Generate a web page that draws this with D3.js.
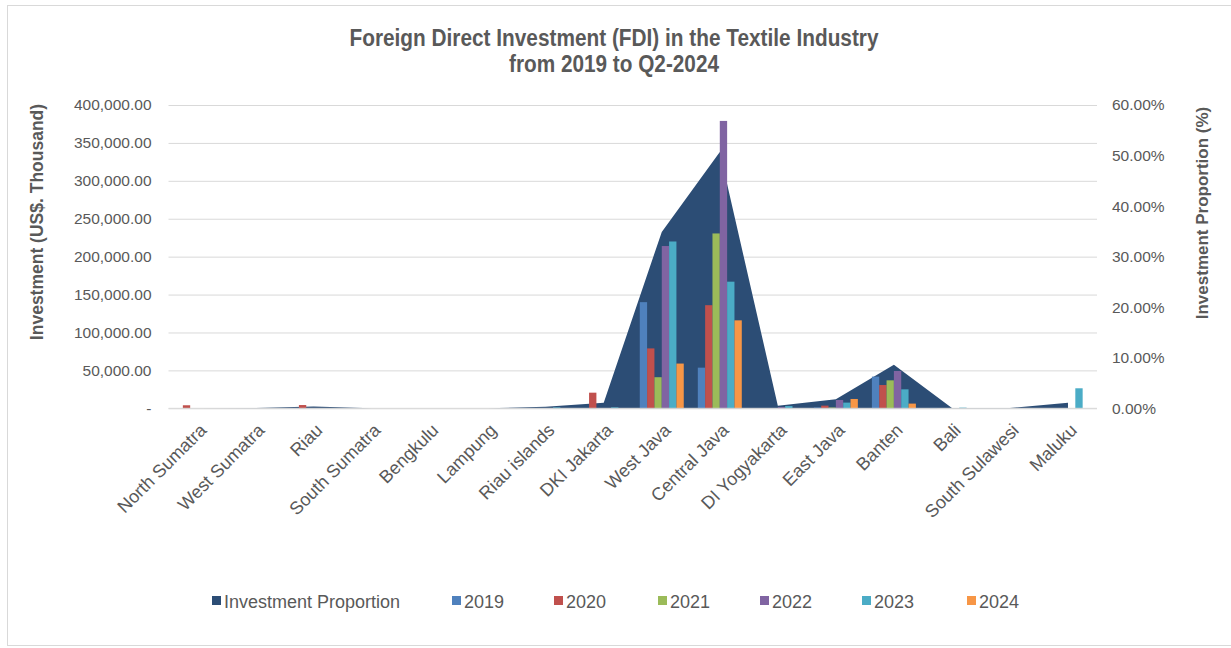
<!DOCTYPE html>
<html>
<head>
<meta charset="utf-8">
<script src="https://cdn.jsdelivr.net/npm/d3@7"></script>
<style>
  html, body { margin: 0; padding: 0; background: #fff; }
  svg { display: block; }
  text { font-family: "Liberation Sans", Arial, sans-serif; fill: #595959; }
</style>
</head>
<body>
<svg id="chart" width="1231" height="648"></svg>
<script>
const categories = ["North Sumatra","West Sumatra","Riau","South Sumatra","Bengkulu","Lampung","Riau islands","DKI Jakarta","West Java","Central Java","DI Yogyakarta","East Java","Banten","Bali","South Sulawesi","Maluku"];
const seriesNames = ["2019","2020","2021","2022","2023","2024"];
const v2019 = [0,0,0,0,0,0,0,0,140000,53600,0,1000,41800,500,0,0];
const v2020 = [4000,0,4300,0,0,0,0,20600,79000,136000,0,3500,30700,0,0,0];
const v2021 = [0,0,0,0,0,0,0,0,41000,230600,0,1000,36900,0,0,0];
const v2022 = [0,0,0,0,0,0,0,0,214000,379000,1500,11000,49200,0,0,0];
const v2023 = [0,0,0,0,0,0,1200,1200,220000,167000,3000,7500,25000,900,0,26400];
const v2024 = [0,0,0,0,0,0,0,0,59000,116000,0,12300,6200,0,0,0];
const proportion = [0,0.05,0.35,0.02,0,0,0.3,1.1,34.9,50.7,0.5,1.8,8.6,0.05,0.05,1.1];
const leftTicks = [0,50000,100000,150000,200000,250000,300000,350000,400000];
const rightTicks = [0,10,20,30,40,50,60];
const title = ["Foreign Direct Investment (FDI) in the Textile Industry","from 2019 to Q2-2024"];

const seriesValues = [v2019,v2020,v2021,v2022,v2023,v2024];
const colors = ["#4f81bd","#c0504d","#9bbb59","#8064a2","#4bacc6","#f79646"];
const areaColor = "#2c4d75";

const svg = d3.select("#chart");
const L = 168.5, R = 1097, T = 105, B = 408.3;

svg.append("rect").attr("x",7.5).attr("y",5.5).attr("width",1229).attr("height",640)
  .attr("fill","none").attr("stroke","#d9d9d9").attr("stroke-width",1);

const x = d3.scaleBand().domain(categories).range([L,R]).padding(0);
const bw = x.bandwidth();
const x1 = d3.scaleBand().domain(seriesNames).range([-bw*0.379, bw*0.379]).padding(0);
const y = d3.scaleLinear().domain([0,400000]).range([B,T]);
const y2 = d3.scaleLinear().domain([0,60]).range([B,T]);

// gridlines
const grid = svg.append("g")
  .attr("transform",`translate(${L},0)`)
  .call(d3.axisLeft(y).tickValues(leftTicks).tickSize(-(R-L)).tickFormat(""));
grid.select(".domain").remove();
grid.selectAll("line").attr("stroke","#d9d9d9");

// area
const area = d3.area()
  .x((d,i)=>x(categories[i])+bw/2)
  .y0(B).y1(d=>y2(d));
svg.append("path").datum(proportion).attr("d",area).attr("fill",areaColor);

// bars
const g = svg.append("g");
categories.forEach((c,ci)=>{
  seriesNames.forEach((s,si)=>{
    const v = seriesValues[si][ci];
    if (v<=0) return;
    g.append("rect")
      .attr("x", x(c)+bw/2+x1(s))
      .attr("width", x1.bandwidth())
      .attr("y", y(v))
      .attr("height", B-y(v))
      .attr("fill", colors[si]);
  });
});

// baseline
svg.append("line").attr("x1",L).attr("x2",R).attr("y1",B).attr("y2",B).attr("stroke","#d9d9d9");

// left axis labels
const fmt = d3.format(",.2f");
const la = svg.append("g").attr("transform",`translate(${L},0)`)
  .call(d3.axisLeft(y).tickValues(leftTicks).tickSize(0).tickPadding(17)
    .tickFormat(d=> d===0 ? "-" : fmt(d)));
la.select(".domain").remove();
la.selectAll("text").style("font-size","15.5px").attr("fill","#595959")
  .style("font-family",'"Liberation Sans", Arial, sans-serif');

// right axis labels
const ra = svg.append("g").attr("transform",`translate(${R},0)`)
  .call(d3.axisRight(y2).tickValues(rightTicks).tickSize(0).tickPadding(15)
    .tickFormat(d=>d.toFixed(2)+"%"));
ra.select(".domain").remove();
ra.selectAll("text").style("font-size","15.5px").attr("fill","#595959")
  .style("font-family",'"Liberation Sans", Arial, sans-serif');

// x labels
const xa = svg.append("g").attr("transform",`translate(0,${B})`)
  .call(d3.axisBottom(x).tickSize(0).tickPadding(0));
xa.select(".domain").remove();
xa.selectAll("text")
  .style("font-size","18px").attr("fill","#595959")
  .style("font-family",'"Liberation Sans", Arial, sans-serif')
  .attr("text-anchor","end")
  .attr("dy",null)
  .attr("y",0)
  .attr("transform","translate(10,23) rotate(-45)");

// axis titles
svg.append("text").attr("transform",`translate(43,222) rotate(-90)`)
  .attr("text-anchor","middle").style("font-size","17.5px").style("font-weight","bold")
  .text("Investment (US$. Thousand)");
svg.append("text").attr("transform",`translate(1208,213) rotate(-90)`)
  .attr("text-anchor","middle").style("font-size","17px").style("font-weight","bold")
  .text("Investment Proportion (%)");

// title
const titleLen = [529, 210];
svg.selectAll(".title").data(title).enter().append("text")
  .attr("x",614).attr("y",(d,i)=>46+i*26)
  .attr("text-anchor","middle")
  .attr("textLength",(d,i)=>titleLen[i])
  .attr("lengthAdjust","spacingAndGlyphs")
  .style("font-family",'"Liberation Sans Narrow", "Arial Narrow", "Liberation Sans", sans-serif')
  .style("font-size","23px").style("font-weight","bold")
  .text(d=>d);

// legend
const legendItems = [{name:"Investment Proportion", color:areaColor}].concat(seriesNames.map((s,i)=>({name:s,color:colors[i]})));
const legendX = [212,452,554,658,760,862,967];
const lg = svg.append("g");
legendItems.forEach((it,i)=>{
  lg.append("rect").attr("x",legendX[i]).attr("y",596).attr("width",9).attr("height",9).attr("fill",it.color);
  lg.append("text").attr("x",legendX[i]+12).attr("y",608)
    .style("font-size","18px").text(it.name);
});
</script>
</body>
</html>
